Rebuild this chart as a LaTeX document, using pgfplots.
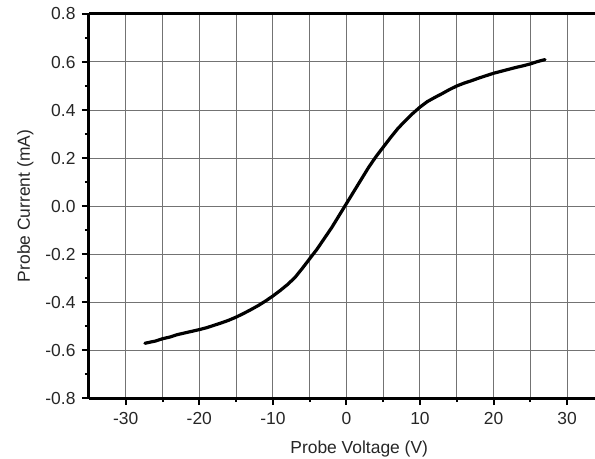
\documentclass[border=0pt]{standalone}
\usepackage{pgfplots}
\pgfplotsset{compat=1.18}
\usepackage{fontspec}
\setmainfont{Liberation Sans}
\begin{document}
\begin{tikzpicture}
\begin{axis}[
  scale only axis, width=506bp, height=384bp,
  xmin=-35, xmax=33.8, ymin=-0.8, ymax=0.8,
  axis x line*=bottom, axis y line*=left,
  axis line style={line width=3bp, black},
  xtick={-30,-20,-10,0,10,20,30},
  minor xtick={-25,-15,-5,5,15,25},
  ytick={-0.8,-0.6,-0.4,-0.2,0,0.2,0.4,0.6,0.8},
  minor ytick={-0.7,-0.5,-0.3,-0.1,0.1,0.3,0.5,0.7},
  xmajorgrids, xminorgrids, ymajorgrids,
  grid style={black!55, line width=1bp},
  minor grid style={black!55, line width=1bp},
  tick align=outside,
  major tick length=7bp, minor tick length=4bp,
  every tick/.style={black, line width=2bp},
  /pgf/number format/assume math mode=true,
  yticklabel style={/pgf/number format/.cd, fixed, fixed zerofill, precision=1, /tikz/.cd, xshift=-3bp},
  xticklabel style={/pgf/number format/.cd, fixed, /tikz/.cd, yshift=-4bp},
  every tick label/.append style={font=\fontsize{17.5}{20}\selectfont, text=black!85},
  xlabel={Probe Voltage (V)},
  ylabel={Probe Current (mA)},
  every axis x label/.style={at={(axis description cs:0.534,0)}, anchor=base, yshift=-55bp, font=\fontsize{17.5}{20}\selectfont, text=black!85},
  every axis y label/.style={at={(axis description cs:0,0.5)}, xshift=-59bp, rotate=90, anchor=base, font=\fontsize{17.5}{20}\selectfont, text=black!85},
  clip=false,
]
\addplot[black, line width=3.2bp, line join=round, line cap=round] coordinates {
(-27.4,-0.572) (-26.5,-0.566) (-26,-0.563) (-25,-0.553) (-24,-0.546) (-23,-0.536)
(-22,-0.529) (-21,-0.522) (-20,-0.515) (-19,-0.507) (-18,-0.497) (-17,-0.487)
(-16,-0.476) (-15,-0.463) (-14,-0.448) (-13,-0.432) (-12,-0.415) (-11,-0.396)
(-10,-0.375) (-9,-0.352) (-8,-0.327) (-7,-0.298) (-6,-0.260) (-5,-0.220)
(-4,-0.180) (-3,-0.135) (-2,-0.090) (-1,-0.040) (0,0.010) (1,0.060)
(2,0.110) (3,0.160) (4,0.205) (5,0.245) (6,0.285) (7,0.323) (8,0.355)
(9,0.385) (10,0.412) (11,0.435) (12,0.452) (13,0.468) (14,0.485) (15,0.500)
(16,0.512) (17,0.522) (18,0.533) (19,0.543) (20,0.553) (21,0.561) (22,0.569)
(23,0.577) (24,0.584) (25,0.592) (26,0.602) (27,0.610)
};
\draw[line width=3bp, black] (rel axis cs:0,1) -- (rel axis cs:1,1);
\coordinate (bbA) at (rel axis cs:0,0);
\coordinate (bbB) at (rel axis cs:1,1);
\end{axis}
\path (bbA) ++(-89bp,-60bp) coordinate (A);
\path (bbB) ++(0bp,14bp) coordinate (B);
\pgfresetboundingbox
\path (A) rectangle (B);
\end{tikzpicture}
\end{document}
